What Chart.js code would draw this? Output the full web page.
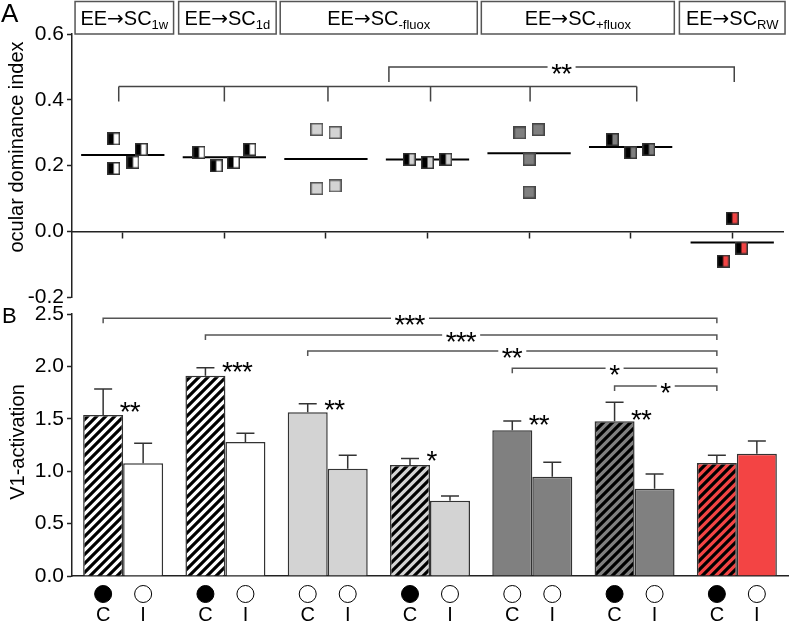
<!DOCTYPE html>
<html>
<head>
<meta charset="utf-8">
<script src="https://cdn.jsdelivr.net/npm/chart.js@4"></script>
<style>
  body { margin: 0; background: #fff; }
  #wrap { position: relative; width: 791px; height: 621px; }
  canvas { position: absolute; left: 0; top: 0; }
</style>
</head>
<body>
<div id="wrap">
  <canvas id="odi" width="791" height="621"></canvas>
  <canvas id="v1" width="791" height="621"></canvas>
</div>
<script>
// groups (same order in both panels)
const groups = ['EE→SC 1w', 'EE→SC 1d', 'EE→SC -fluox (a)', 'EE→SC -fluox (b)',
                'EE→SC +fluox (a)', 'EE→SC +fluox (b)', 'EE→SC RW'];

// panel A: ocular dominance index, single animals
const odiX = [
  [0.91, 0.91, 1.10, 1.18],
  [1.75, 1.92, 2.09, 2.25],
  [2.91, 3.09, 2.91, 3.09],
  [3.82, 4.00, 4.18],
  [4.91, 5.09, 5.00, 5.00],
  [5.82, 6.00, 6.18],
  [7.00, 7.09, 6.91]
];
const odiY = [
  [0.281, 0.191, 0.210, 0.249],
  [0.240, 0.199, 0.210, 0.249],
  [0.310, 0.300, 0.130, 0.138],
  [0.219, 0.209, 0.219],
  [0.299, 0.309, 0.219, 0.119],
  [0.279, 0.239, 0.249],
  [0.040, -0.051, -0.091]
];
const odiMean = [0.232, 0.225, 0.220, 0.218, 0.237, 0.256, -0.034];
const odiTicks = [-0.2, 0.0, 0.2, 0.4, 0.6];

// panel A header boxes
const boxLabels = ['1w', '1d', '-fluox', '+fluox', 'RW'];
const boxFrom = [0.53, 1.55, 2.55, 4.53, 6.48];
const boxTo = [1.50, 2.51, 4.49, 6.43, 7.52];

// panel A comparisons
const odiLowDrops = [0.96, 2.0, 3.02, 4.03, 5.01, 6.06];
const odiLowLevel = 0.44;
const odiHigh = { from: 3.62, to: 7.02, level: 0.50, stars: '**' };

// panel B: V1 activation, contra (C) and ipsi (I) eye
const v1Contra = [1.536, 1.911, 1.562, 1.059, 1.390, 1.476, 1.078];
const v1ContraSem = [0.248, 0.077, 0.082, 0.061, 0.089, 0.181, 0.074];
const v1Ipsi = [1.075, 1.279, 1.024, 0.719, 0.948, 0.833, 1.167];
const v1IpsiSem = [0.191, 0.083, 0.128, 0.044, 0.137, 0.140, 0.121];
const v1Ticks = [0.0, 0.5, 1.0, 1.5, 2.0, 2.5];
const contraClosed = [true, true, false, true, false, true, true];

// C vs I within group
const pairStars = ['**', '***', '**', '*', '**', '**', ''];
const pairStarY = [1.63, 2.01, 1.65, 1.16, 1.51, 1.56, 0];

// C of each group vs C of RW
const cmpFrom = [0, 1, 2, 4, 5];
const cmpTo = [6, 6, 6, 6, 6];
const cmpY = [2.459, 2.30, 2.147, 1.982, 1.813];
const cmpStars = ['***', '***', '**', '*', '*'];

const FONT = '"Liberation Sans", Arial, sans-serif';
const lightGray = '#d3d3d3';
const darkGray = '#808080';
const red = '#f34444';

function square(left, right, edge) {
  const c = document.createElement('canvas');
  c.width = c.height = 13;
  const g = c.getContext('2d');
  g.fillStyle = right; g.fillRect(0, 0, 13, 13);
  g.fillStyle = left; g.fillRect(0, 0, 6.5, 13);
  g.strokeStyle = edge; g.lineWidth = 1.5;
  g.strokeRect(0.75, 0.75, 11.5, 11.5);
  return c;
}

function hatch(bg) {
  const s = 9;
  const c = document.createElement('canvas');
  c.width = c.height = s;
  const g = c.getContext('2d');
  g.fillStyle = bg; g.fillRect(0, 0, s, s);
  g.strokeStyle = '#000'; g.lineWidth = 3.2;
  g.beginPath();
  g.moveTo(0, s); g.lineTo(s, 0);
  g.moveTo(-s / 2, s / 2); g.lineTo(s / 2, -s / 2);
  g.moveTo(s / 2, s * 1.5); g.lineTo(s * 1.5, s / 2);
  g.stroke();
  return g.createPattern(c, 'repeat');
}

function drawStars(ctx, s, cx, cy) {
  ctx.save();
  ctx.fillStyle = '#000';
  ctx.font = '28px ' + FONT;
  ctx.textAlign = 'center';
  ctx.textBaseline = 'alphabetic';
  for (let k = 0; k < s.length; k++) {
    ctx.fillText('*', cx + (k - (s.length - 1) / 2) * 10, cy + 16);
  }
  ctx.restore();
}

function rotatedText(ctx, text, x, y) {
  ctx.save();
  ctx.translate(x, y);
  ctx.rotate(-Math.PI / 2);
  ctx.fillStyle = '#000';
  ctx.font = '20px ' + FONT;
  ctx.textAlign = 'center';
  ctx.textBaseline = 'middle';
  ctx.fillText(text, 0, 0);
  ctx.restore();
}

// ---------- panel A ----------
const odiMarks = [
  square('#000', '#fff', '#333'),
  square('#000', '#fff', '#333'),
  square(lightGray, lightGray, '#555'),
  square('#000', lightGray, '#333'),
  square(darkGray, darkGray, '#444'),
  square('#000', darkGray, '#333'),
  square('#000', red, '#333')
];

const odiSets = [];
groups.forEach((g, i) => {
  odiSets.push({
    type: 'scatter', label: g, order: 1,
    data: odiX[i].map((x, k) => ({ x: x, y: odiY[i][k] })),
    pointStyle: odiMarks[i], pointRadius: 7, pointHoverRadius: 7
  });
  odiSets.push({
    type: 'line', label: g + ' mean', order: 2,
    data: [{ x: i + 1 - 0.41, y: odiMean[i] }, { x: i + 1 + 0.41, y: odiMean[i] }],
    borderColor: '#000', borderWidth: 2, pointRadius: 0, fill: false
  });
});

const odiDecor = {
  id: 'odiDecor',
  afterDraw(chart) {
    const ctx = chart.ctx, x = chart.scales.x, y = chart.scales.y;
    ctx.save();
    // header boxes: "EE→SC" with subscript
    const parts = [['EE', '20px ' + FONT], ['→', '20px "DejaVu Sans", ' + FONT], ['SC', '20px ' + FONT]];
    boxLabels.forEach((sub, i) => {
      const x1 = x.getPixelForValue(boxFrom[i]), x2 = x.getPixelForValue(boxTo[i]);
      ctx.strokeStyle = '#555'; ctx.lineWidth = 1.5;
      ctx.strokeRect(x1, 1.5, x2 - x1, 32.5);
      ctx.fillStyle = '#000';
      ctx.textAlign = 'left'; ctx.textBaseline = 'alphabetic';
      const widths = parts.map(([t, f]) => { ctx.font = f; return ctx.measureText(t).width; });
      ctx.font = '13px ' + FONT;
      const ws = ctx.measureText(sub).width;
      let left = (x1 + x2) / 2 - (widths.reduce((a, b) => a + b, 0) + ws) / 2;
      parts.forEach(([t, f], k) => {
        ctx.font = f;
        ctx.fillText(t, left, 25);
        left += widths[k];
      });
      ctx.font = '13px ' + FONT;
      ctx.fillText(sub, left, 29);
    });
    // comparison brackets
    ctx.strokeStyle = '#444'; ctx.lineWidth = 1.5;
    const yl = y.getPixelForValue(odiLowLevel);
    ctx.beginPath();
    ctx.moveTo(x.getPixelForValue(odiLowDrops[0]), yl);
    ctx.lineTo(x.getPixelForValue(odiLowDrops[odiLowDrops.length - 1]), yl);
    odiLowDrops.forEach(d => {
      ctx.moveTo(x.getPixelForValue(d), yl);
      ctx.lineTo(x.getPixelForValue(d), yl + 15);
    });
    ctx.stroke();
    const yh = y.getPixelForValue(odiHigh.level);
    const h1 = x.getPixelForValue(odiHigh.from), h2 = x.getPixelForValue(odiHigh.to);
    const mid = (h1 + h2) / 2, half = (odiHigh.stars.length - 1) * 5 + 9;
    ctx.beginPath();
    ctx.moveTo(h1, yh + 15); ctx.lineTo(h1, yh); ctx.lineTo(mid - half, yh);
    ctx.moveTo(mid + half, yh); ctx.lineTo(h2, yh); ctx.lineTo(h2, yh + 15);
    ctx.stroke();
    drawStars(ctx, odiHigh.stars, mid, yh);
    // labels
    rotatedText(ctx, 'ocular dominance index', 17, 147);
    ctx.fillStyle = '#000';
    ctx.font = '26px ' + FONT;
    ctx.textAlign = 'left'; ctx.textBaseline = 'alphabetic';
    ctx.fillText('A', 1, 22);
    ctx.restore();
  }
};

new Chart(document.getElementById('odi'), {
  type: 'scatter',
  data: { datasets: odiSets },
  options: {
    responsive: false,
    animation: false,
    layout: { padding: { top: 34, right: 3, bottom: 324, left: 0 } },
    plugins: { legend: { display: false }, tooltip: { enabled: false } },
    scales: {
      x: {
        type: 'linear', min: 0.5, max: 7.5, position: { y: 0 },
        afterBuildTicks: s => { s.ticks = groups.map((g, i) => ({ value: i + 1 })); },
        afterFit: s => { s.height = 0; },
        ticks: { display: false },
        grid: { drawOnChartArea: false, tickLength: 6, tickWidth: 1.5, tickColor: '#222' },
        border: { color: '#222', width: 1.5 }
      },
      y: {
        min: odiTicks[0], max: odiTicks[odiTicks.length - 1],
        afterBuildTicks: s => { s.ticks = odiTicks.map(v => ({ value: v })); },
        afterFit: s => { s.width = 72; },
        ticks: { callback: v => v.toFixed(1), color: '#000', font: { size: 21, family: FONT }, padding: 3 },
        grid: { drawOnChartArea: false, tickLength: 5, tickWidth: 1.5, tickColor: '#222' },
        border: { color: '#222', width: 1.5 }
      }
    }
  },
  plugins: [odiDecor]
});

// ---------- panel B ----------
const contraFill = [hatch('#fff'), hatch('#fff'), lightGray, hatch(lightGray), darkGray, hatch(darkGray), hatch(red)];
const ipsiFill = ['#fff', '#fff', lightGray, lightGray, darkGray, darkGray, red];

const v1Decor = {
  id: 'v1Decor',
  afterDatasetsDraw(chart) {
    const ctx = chart.ctx, y = chart.scales.y;
    ctx.save();
    ctx.strokeStyle = '#333'; ctx.lineWidth = 1.5;
    [[0, v1Contra, v1ContraSem], [1, v1Ipsi, v1IpsiSem]].forEach(([di, vals, sem]) => {
      chart.getDatasetMeta(di).data.forEach((bar, i) => {
        const top = y.getPixelForValue(vals[i] + sem[i]);
        ctx.beginPath();
        ctx.moveTo(bar.x, bar.y); ctx.lineTo(bar.x, top);
        ctx.moveTo(bar.x - 9, top); ctx.lineTo(bar.x + 9, top);
        ctx.stroke();
      });
    });
    ctx.restore();
  },
  afterDraw(chart) {
    const ctx = chart.ctx, y = chart.scales.y, area = chart.chartArea;
    const cBars = chart.getDatasetMeta(0).data, iBars = chart.getDatasetMeta(1).data;
    ctx.save();
    // C vs I stars
    pairStars.forEach((s, i) => {
      if (!s) return;
      const right = cBars[i].x + cBars[i].width / 2;
      drawStars(ctx, s, right + 2 + (s.length - 1) * 5, y.getPixelForValue(pairStarY[i]));
    });
    // brackets to RW
    ctx.strokeStyle = '#555'; ctx.lineWidth = 1.5;
    cmpFrom.forEach((f, k) => {
      const x1 = cBars[f].x, x2 = cBars[cmpTo[k]].x, yy = y.getPixelForValue(cmpY[k]);
      const mid = (x1 + x2) / 2, half = (cmpStars[k].length - 1) * 5 + 9;
      ctx.beginPath();
      ctx.moveTo(x1, yy + 5); ctx.lineTo(x1, yy); ctx.lineTo(mid - half, yy);
      ctx.moveTo(mid + half, yy); ctx.lineTo(x2, yy); ctx.lineTo(x2, yy + 5);
      ctx.stroke();
      drawStars(ctx, cmpStars[k], mid, yy);
    });
    // eye symbols and labels
    ctx.strokeStyle = '#000'; ctx.lineWidth = 1;
    ctx.font = '20px ' + FONT;
    ctx.textAlign = 'center'; ctx.textBaseline = 'alphabetic';
    groups.forEach((g, i) => {
      [[cBars[i], contraClosed[i], 'C'], [iBars[i], false, 'I']].forEach(([bar, closed, lab]) => {
        ctx.beginPath();
        ctx.arc(bar.x, area.bottom + 18, 8.5, 0, Math.PI * 2);
        ctx.fillStyle = closed ? '#000' : '#fff';
        ctx.fill(); ctx.stroke();
        ctx.fillStyle = '#000';
        ctx.fillText(lab, bar.x, area.bottom + 45);
      });
    });
    rotatedText(ctx, 'V1-activation', 18, 442);
    ctx.fillStyle = '#000';
    ctx.font = '22px ' + FONT;
    ctx.textAlign = 'left';
    ctx.fillText('B', 2, 323);
    ctx.restore();
  }
};

new Chart(document.getElementById('v1'), {
  type: 'bar',
  data: {
    labels: groups,
    datasets: [
      { label: 'C', data: v1Contra, backgroundColor: contraFill, borderColor: '#333', borderWidth: 1.5 },
      { label: 'I', data: v1Ipsi, backgroundColor: ipsiFill, borderColor: '#333', borderWidth: 1.5 }
    ]
  },
  options: {
    responsive: false,
    animation: false,
    categoryPercentage: 0.782,
    barPercentage: 1,
    layout: { padding: { top: 314, right: 3, bottom: 45, left: 0 } },
    plugins: { legend: { display: false }, tooltip: { enabled: false } },
    scales: {
      x: {
        afterFit: s => { s.height = 0; },
        ticks: { display: false },
        grid: { drawOnChartArea: false, drawTicks: false },
        border: { color: '#222', width: 1.5 }
      },
      y: {
        min: v1Ticks[0], max: v1Ticks[v1Ticks.length - 1],
        afterBuildTicks: s => { s.ticks = v1Ticks.map(v => ({ value: v })); },
        afterFit: s => { s.width = 72; },
        ticks: { callback: v => v.toFixed(1), color: '#000', font: { size: 21, family: FONT }, padding: 3 },
        grid: { drawOnChartArea: false, tickLength: 5, tickWidth: 1.5, tickColor: '#222' },
        border: { color: '#222', width: 1.5 }
      }
    }
  },
  plugins: [v1Decor]
});
</script>
</body>
</html>
